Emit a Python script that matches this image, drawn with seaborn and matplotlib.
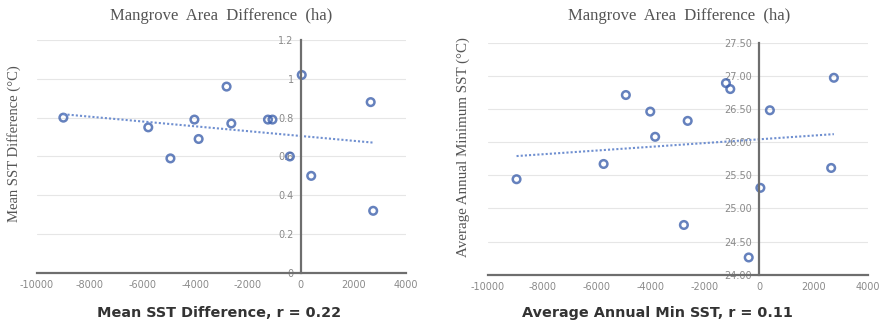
"""
Mangrove area difference vs SST metrics: two scatter panels with dotted
linear trendlines, Excel-style axes crossing at x = 0.
"""
import numpy as np
import pandas as pd
import matplotlib
matplotlib.use('Agg')
import matplotlib.pyplot as plt
from matplotlib.ticker import FuncFormatter
import seaborn as sns

# --- data ---
area_diff = [-9000, -5780, -4940, -4030, -3870, -2810, -2630,
             -1240, -1070, -410, 40, 400, 2655, 2750]
mean_sst_diff = [0.80, 0.75, 0.59, 0.79, 0.69, 0.96, 0.77,
                 0.79, 0.79, 0.60, 1.02, 0.50, 0.88, 0.32]

area_diff_r = [-8950, -5740, -4920, -4020, -3840, -2780, -2640,
               -1230, -1070, -390, 40, 390, 2650, 2750]
min_sst = [25.44, 25.67, 26.71, 26.46, 26.08, 24.75, 26.32,
           26.89, 26.80, 24.26, 25.31, 26.48, 25.61, 26.97]

x_ticks = [-10000, -8000, -6000, -4000, -2000, 0, 2000, 4000]
left_yticks = [0, 0.2, 0.4, 0.6, 0.8, 1.0, 1.2]
right_yticks = [24.0, 24.5, 25.0, 25.5, 26.0, 26.5, 27.0, 27.5]

BLUE = '#3f62ad'
TREND = '#6f8fd0'
GREY_TXT = '#8a8a8a'
SERIF = ['Liberation Serif', 'DejaVu Serif']

sns.set_style('white')
plt.rcParams['font.family'] = ['DejaVu Sans']
plt.rcParams['axes.unicode_minus'] = False

fig = plt.figure(figsize=(8.81, 3.28), dpi=100)
ax_l = fig.add_axes([0.042, 0.168, 0.419, 0.710])
ax_r = fig.add_axes([0.554, 0.1625, 0.431, 0.7075])


def draw_panel(ax, x, y, yticks, yfmt):
    df = pd.DataFrame({'x': x, 'y': y})
    sns.regplot(data=df, x='x', y='y', ax=ax, ci=None,
                scatter_kws={'s': 30, 'facecolors': 'none',
                             'edgecolors': BLUE, 'linewidths': 1.8},
                line_kws={'color': TREND, 'linestyle': (0, (1, 1)),
                          'linewidth': 1.5})
    ax.set_xlim(x_ticks[0], x_ticks[-1])
    ax.set_ylim(yticks[0], yticks[-1])
    ax.set_xticks(x_ticks)
    ax.set_yticks(yticks)
    ax.yaxis.set_major_formatter(FuncFormatter(yfmt))
    ax.set_xlabel('')
    ax.set_ylabel('')
    ax.grid(axis='y', color='#e6e6e6', linewidth=0.8)
    ax.set_axisbelow(True)
    for s in ('top', 'right'):
        ax.spines[s].set_visible(False)
    ax.spines['left'].set_position(('data', 0))
    ax.spines['left'].set_color('#6e6e6e')
    ax.spines['left'].set_linewidth(1.6)
    ax.spines['bottom'].set_color('#6e6e6e')
    ax.spines['bottom'].set_linewidth(1.6)
    ax.tick_params(axis='both', length=0, labelsize=7, colors=GREY_TXT, pad=5)


draw_panel(ax_l, area_diff, mean_sst_diff, left_yticks, lambda v, p: f'{v:g}')
draw_panel(ax_r, area_diff_r, min_sst, right_yticks, lambda v, p: f'{v:.2f}')

# titles / axis labels (Excel-style text placement)
for cx in (221 / 881, 679 / 881):
    fig.text(cx, 1 - 16 / 328, 'Mangrove  Area  Difference  (ha)',
             ha='center', va='center', fontsize=12, color='#555555',
             family=SERIF)
fig.text(14 / 881, 1 - 144 / 328, 'Mean SST Difference (°C)', rotation=90,
         ha='center', va='center', fontsize=10.5, color='#555555', family=SERIF)
fig.text(463 / 881, 1 - 147 / 328, 'Average Annual Minimum SST (°C)',
         rotation=90, ha='center', va='center', fontsize=10.8,
         color='#555555', family=SERIF)

fig.text(219 / 881, 1 - 313 / 328, 'Mean SST Difference, r = 0.22',
         ha='center', va='center', fontsize=10.4, fontweight='bold',
         color='#333333')
fig.text(657 / 881, 1 - 313 / 328, 'Average Annual Min SST, r = 0.11',
         ha='center', va='center', fontsize=10.4, fontweight='bold',
         color='#333333')

fig.savefig('out.png', dpi=100)
plt.close(fig)
